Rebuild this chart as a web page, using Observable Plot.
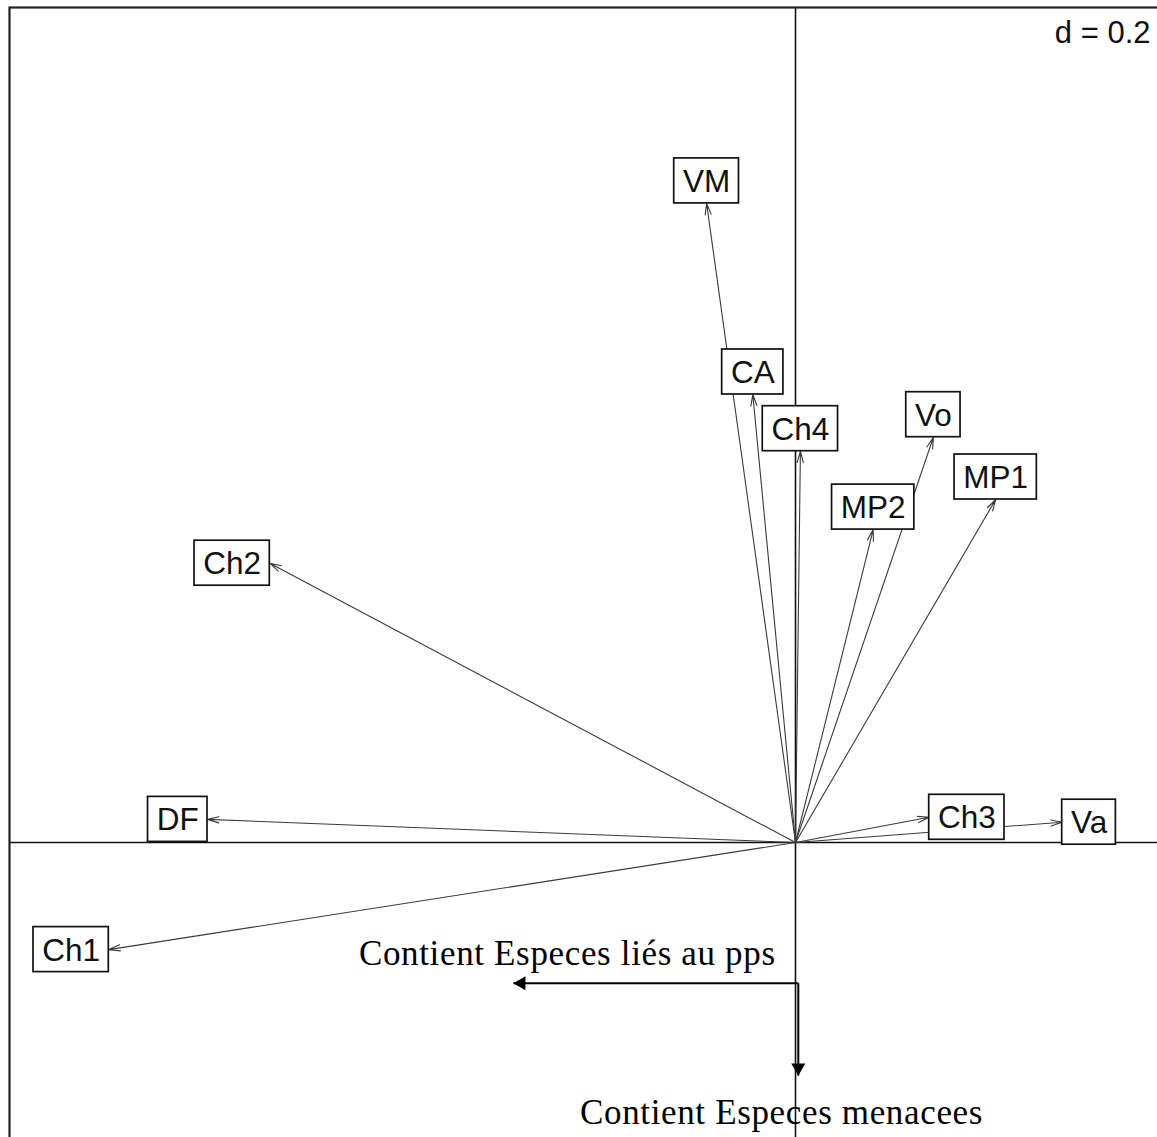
<!DOCTYPE html>
<html><head><meta charset="utf-8">
<script src="https://cdn.jsdelivr.net/npm/d3@7"></script>
<script src="https://cdn.jsdelivr.net/npm/@observablehq/plot@0.6"></script>
<style>
html,body{margin:0;padding:0;overflow:hidden;background:#fff;}
#chart{position:absolute;left:0;top:0;}
#chart svg{max-width:none !important;}
g[font-family="Liberation Serif"] text{letter-spacing:0.65px;}
</style></head><body><div id="chart"></div>
<script>
// Variable arrows (correlation coordinates)
const labels = ["VM","CA","Ch4","Vo","MP2","MP1","Ch2","DF","Ch1","Ch3","Va"];
const xs = [-0.127,-0.061,0.007,0.197,0.111,0.286,-0.751,-0.840,-0.981,0.191,0.381];
const ys = [0.913,0.640,0.559,0.579,0.447,0.490,0.399,0.033,-0.153,0.036,0.029];

// Supplementary (annotated) arrows
const suppNames = ["Contient Especes liés au pps","Contient Especes menacees"];
const suppX0 = [0.004, 0.004];
const suppY0 = [-0.201, -0.201];
const suppX1 = [-0.403, 0.004];
const suppY1 = [-0.201, -0.333];
const suppLabelX = [-0.326, -0.020];
const suppLabelY = [-0.159, -0.386];
const scaleText = "d = 0.2";

// layout
const W = 1180, H = 1160, mL = 9, mT = 7, K = 700, ox = 795, oy = 842;
const xDomain = [(mL - ox) / K, (W - ox) / K];
const yDomain = [-(H - oy) / K, (oy - mT) / K];
const labelFont = 31.5, boxH = 45;

const ctx = document.createElement("canvas").getContext("2d");
ctx.font = `${labelFont}px "Liberation Sans"`;
const spaceW = ctx.measureText(" ").width;

const arrows = labels.map((name, i) => {
  const x = xs[i], y = ys[i];
  const bw = (ctx.measureText(name).width + 2 * spaceW) / K;
  const bh = boxH / K;
  let cx = x, cy = y;
  if (Math.abs(x) > Math.abs(y)) cx = x + Math.sign(x) * bw / 2;
  else cy = y + Math.sign(y) * bh / 2;
  return {name, x, y, cx, cy, x1: cx - bw / 2, x2: cx + bw / 2, y1: cy - bh / 2, y2: cy + bh / 2};
});

const supp = suppNames.map((name, i) => ({
  name, x0: suppX0[i], y0: suppY0[i], x1: suppX1[i], y1: suppY1[i], lx: suppLabelX[i], ly: suppLabelY[i]
}));

const plot = Plot.plot({
  width: W, height: H,
  marginLeft: mL, marginTop: mT, marginRight: 0, marginBottom: 0,
  x: {domain: xDomain, axis: null},
  y: {domain: yDomain, axis: null},
  style: {background: "white", maxWidth: "none"},
  marks: [
    Plot.ruleY([0], {stroke: "#111", strokeWidth: 1.6}),
    Plot.ruleX([0], {stroke: "#111", strokeWidth: 1.6}),
    Plot.arrow(arrows, {x1: d => 0, y1: d => 0, x2: "x", y2: "y", stroke: "#3a3a3a", strokeWidth: 1.1, headAngle: 30, headLength: 16}),
    Plot.rect(arrows, {x1: "x1", x2: "x2", y1: "y1", y2: "y2", fill: "white", stroke: "#111", strokeWidth: 1.7}),
    Plot.text(arrows, {x: "cx", y: "cy", text: "name", fontSize: labelFont, fontFamily: "Liberation Sans", fill: "#111", dy: 1}),
    Plot.link(supp, {x1: "x0", y1: "y0", x2: "x1", y2: "y1", stroke: "#000", strokeWidth: 2}),
    Plot.dot(supp.filter(d => d.y1 === d.y0), {x: "x1", y: "y1", symbol: "triangle", r: 5.2, fill: "#000", stroke: "none", rotate: -90, dx: 8}),
    Plot.dot(supp.filter(d => d.x1 === d.x0), {x: "x1", y: "y1", symbol: "triangle", r: 5.2, fill: "#000", stroke: "none", rotate: 180, dy: -8}),
    Plot.text(supp, {x: "lx", y: "ly", text: "name", fontSize: 35, fontFamily: "Liberation Serif", fill: "#000"}),
    Plot.text([scaleText], {frameAnchor: "top-right", text: d => d, textAnchor: "end", lineAnchor: "middle", dx: -30, dy: 26, fontSize: 31, fontFamily: "Liberation Sans", fill: "#111"}),
    Plot.frame({stroke: "#222", strokeWidth: 2.2})
  ]
});
document.getElementById("chart").appendChild(plot);
</script></body></html>
